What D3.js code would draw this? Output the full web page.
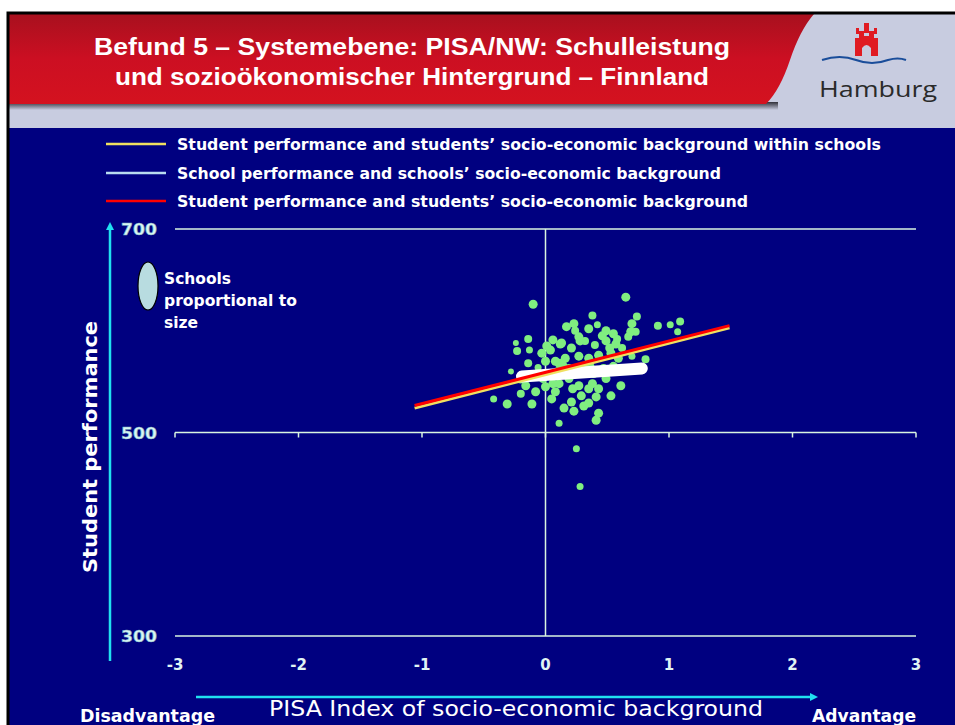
<!DOCTYPE html>
<html><head><meta charset="utf-8">
<script src="https://cdn.jsdelivr.net/npm/d3@7/dist/d3.min.js"></script>
<style>html,body{margin:0;padding:0;background:#fff;}svg{display:block;}</style>
</head><body>
<script>
// ---------- data ----------
const xTicks = [-3, -2, -1, 0, 1, 2, 3];
const yTicks = [300, 500, 700];
const titleLines = ["Befund 5 – Systemebene: PISA/NW: Schulleistung", "und sozioökonomischer Hintergrund – Finnland"];
const legendLabels = [
  "Student performance and students’ socio-economic background within schools",
  "School performance and schools’ socio-economic background",
  "Student performance and students’ socio-economic background"
];
const legendColors = ["#f0e060", "#b8dcf0", "#ff0000"];
// regression lines: [x, y] endpoints
const lineWithin = [[-1.06, 524], [1.49, 603]];
const lineSchools = [[-0.19, 555], [0.78, 563]];
const lineStudents = [[-1.06, 526.5], [1.49, 605]];
// schools: socio-economic index, mean performance, relative size
const schoolX = [-0.10,0.65,0.38,0.17,0.24,0.42,0.74,0.70,0.69,0.73,0.67,0.91,1.01,1.09,1.07,-0.24,-0.23,-0.13,-0.03,0.12,0.04,0.27,0.32,0.21,0.40,0.49,0.49,0.57,0.62,0.53,0.43,0.35,0.27,0.16,0.08,0.00,0.70,0.81,-0.28,-0.06,0.49,0.61,-0.16,0.00,-0.08,0.08,0.27,0.35,0.19,0.29,0.41,-0.42,-0.31,-0.11,0.05,0.21,0.31,0.23,0.43,0.41,0.11,0.25,0.28,0.46,0.52,0.28,0.36,0.58,0.14,0.10,-0.20,-0.05,0.60,0.30,0.00,0.22,0.38,0.06,-0.02,0.13,
  0.06,0.01,0.11,0.19,0.31,0.39,0.47,0.55,0.63,-0.14,-0.20,-0.02,0.11,0.43,0.53,0.35,0.15,0.59,0.23,0.55,-0.14,0.35];
const schoolY = [626,633,615,604,600,606,614,607,599,599,594,605,606,609,599,588,580,581,578,587,581,594,590,583,586,600,590,587,583,578,576,573,575,573,570,570,575,572,560,564,553,546,546,545,540,540,546,543,553,536,535,533,528,528,533,530,526,521,519,512,509,484,447,595,583,590,565,592,566,560,552,556,562,562,557,543,548,548,553,588,
  591,585,568,563,561,558,563,565,561,568,538,555,548,543,536,529,524,573,607,597,592,602];
const schoolR = [4.5,4.5,4,4.5,4,3.5,4,4.5,4.5,4,4,4,3.5,4,3.5,3,4,3.5,4.5,4.5,4.5,4.5,4,4.5,4,4.5,4.5,4.5,4,4.5,4.5,4.5,4.5,4.5,4.5,4.5,3.5,4,3,3.5,4.5,4.5,4.5,4.5,4.5,4.5,4.5,4.5,4.5,4.5,4.5,3.5,4.5,4.5,4.5,4.5,4.5,4.5,4.5,4.5,3.5,3.5,3.5,4.5,4.5,4.5,4.5,4,4.5,4.5,4,4.5,4.5,4.5,4.5,4.5,4.5,4.5,4.5,4.5,
  4.5,4.5,4.5,4.5,4.5,4.5,4.5,4.5,4.5,4,4,4.5,4.5,4.5,4.5,4.5,4.5,4.5,4.5,4.5,4,4.5];

// ---------- svg ----------
const W = 955, H = 725;
const svg = d3.select("body").append("svg").attr("width", W).attr("height", H);
const defs = svg.append("defs");
const rg = defs.append("linearGradient").attr("id", "redg").attr("x1", 0).attr("y1", 0).attr("x2", 0).attr("y2", 1);
rg.append("stop").attr("offset", "0").attr("stop-color", "#a8101e");
rg.append("stop").attr("offset", "0.5").attr("stop-color", "#cc0f22");
rg.append("stop").attr("offset", "1").attr("stop-color", "#d4121f");
const sg = defs.append("linearGradient").attr("id", "shadg").attr("x1", 0).attr("y1", 0).attr("x2", 0).attr("y2", 1);
sg.append("stop").attr("offset", "0").attr("stop-color", "#303038");
sg.append("stop").attr("offset", "1").attr("stop-color", "#c8cce0");
defs.append("marker").attr("id", "arr").attr("viewBox", "0 0 10 10").attr("refX", 5).attr("refY", 5)
  .attr("markerWidth", 3.2).attr("markerHeight", 3.2).attr("orient", "auto")
  .append("path").attr("d", "M0,0L10,5L0,10Z").attr("fill", "#20e0f0");

// background
svg.append("rect").attr("x", 0).attr("y", 0).attr("width", W).attr("height", H).attr("fill", "#fff");
svg.append("rect").attr("x", 7).attr("y", 12).attr("width", W - 7).attr("height", H - 12).attr("fill", "#c8cce0");
svg.append("rect").attr("x", 7).attr("y", 128).attr("width", W - 7).attr("height", H - 128).attr("fill", "#000080");
// shadow under red band
svg.append("path").attr("d", "M7,102 L778,102 L778,110 L7,110 Z").attr("fill", "url(#shadg)");
svg.append("path").attr("d", "M7,14 L814,14 Q800,30 790,60 Q780,90 766,104 L7,104 Z").attr("fill", "url(#redg)");
// border
svg.append("path").attr("d", "M8," + H + " L8,13 L955,13").attr("fill", "none").attr("stroke", "#000").attr("stroke-width", 3);

// title
svg.selectAll("text.title").data(titleLines).join("text").attr("class", "title")
  .attr("x", 412).attr("y", (d, i) => 55 + i * 30).attr("text-anchor", "middle")
  .attr("font-family", "Liberation Sans, Arial, sans-serif").attr("font-weight", "bold").attr("font-size", 23)
  .attr("fill", "#fff").attr("textLength", (d, i) => i === 0 ? 636 : 594).attr("lengthAdjust", "spacingAndGlyphs")
  .text(d => d);

// Hamburg logo
const logo = svg.append("g");
logo.append("path").attr("d", "M855,56 L855,38 L859,38 L859,31 L864,31 L864,36 L869,36 L869,31 L874,31 L874,38 L878,38 L878,56 L871,56 L871,48 Q866.5,42 862,48 L862,56 Z").attr("fill", "#e01b22");
logo.append("rect").attr("x", 864).attr("y", 23).attr("width", 5).attr("height", 10).attr("fill", "#e01b22");
logo.append("rect").attr("x", 856).attr("y", 28).attr("width", 3, 0).attr("height", 6).attr("fill", "#e01b22");
logo.append("rect").attr("x", 874).attr("y", 28).attr("width", 3).attr("height", 6).attr("fill", "#e01b22");
logo.append("path").attr("d", "M822,60 Q840,54 856,60 Q872,66 888,60 Q898,57 906,60").attr("fill", "none").attr("stroke", "#1a4d9a").attr("stroke-width", 2);
logo.append("text").attr("x", 878).attr("y", 97).attr("text-anchor", "middle")
  .attr("font-family", "Open Sans, DejaVu Sans, sans-serif").attr("font-size", 22).attr("fill", "#2a2a2a")
  .attr("textLength", 118).attr("lengthAdjust", "spacingAndGlyphs").text("Hamburg");

// ---------- chart ----------
const x = d3.scaleLinear().domain([-3, 3]).range([175, 916]);
const y = d3.scaleLinear().domain([300, 700]).range([636, 229]);
const font = "DejaVu Sans, Verdana, sans-serif";
const grid = "#d8f4e0";

// horizontal gridlines
svg.append("g").selectAll("line").data(yTicks).join("line")
  .attr("x1", x(-3)).attr("x2", x(3)).attr("y1", d => y(d)).attr("y2", d => y(d))
  .attr("stroke", grid).attr("stroke-width", 1.5);
// vertical line at 0
svg.append("line").attr("x1", x(0)).attr("x2", x(0)).attr("y1", y(700)).attr("y2", y(300))
  .attr("stroke", grid).attr("stroke-width", 1.5);
// tick marks on 500 line
svg.append("g").selectAll("line").data(xTicks).join("line")
  .attr("x1", d => x(d)).attr("x2", d => x(d)).attr("y1", y(500)).attr("y2", y(500) + 5)
  .attr("stroke", grid).attr("stroke-width", 1.5);

// y tick labels
svg.append("g").selectAll("text").data(yTicks).join("text")
  .attr("x", 121).attr("y", d => y(d) + 6).attr("font-family", font).attr("font-weight", "bold")
  .attr("font-size", 15).attr("fill", "#d8f6f4").attr("stroke", "#7fb0c0").attr("stroke-width", 0.5)
  .attr("textLength", 36).attr("lengthAdjust", "spacingAndGlyphs").text(d => d);
// x tick labels
svg.append("g").selectAll("text").data(xTicks).join("text")
  .attr("x", d => x(d)).attr("y", 670).attr("text-anchor", "middle").attr("font-family", font)
  .attr("font-weight", "bold").attr("font-size", 15).attr("fill", "#e0f4f4").text(d => d);

// axes arrows
svg.append("line").attr("x1", 110).attr("x2", 110).attr("y1", 661).attr("y2", 226)
  .attr("stroke", "#20e0f0").attr("stroke-width", 2.5).attr("marker-end", "url(#arr)");
svg.append("line").attr("x1", 196).attr("x2", 814).attr("y1", 697).attr("y2", 697)
  .attr("stroke", "#20e0f0").attr("stroke-width", 2.5).attr("marker-end", "url(#arr)");

// schools
svg.append("g").selectAll("circle").data(schoolX.map((v, i) => [v, schoolY[i], schoolR[i]])).join("circle")
  .attr("cx", d => x(d[0])).attr("cy", d => y(d[1])).attr("r", d => d[2]).attr("fill", "#80ee80");

// regression lines
const lg = d3.line().x(d => x(d[0])).y(d => y(d[1]));
svg.append("path").attr("d", lg(lineSchools)).attr("stroke", "#ffffff").attr("stroke-width", 12)
  .attr("stroke-linecap", "round").attr("fill", "none");
svg.append("path").attr("d", lg(lineWithin)).attr("stroke", legendColors[0]).attr("stroke-width", 3).attr("fill", "none");
svg.append("path").attr("d", lg(lineStudents)).attr("stroke", legendColors[2]).attr("stroke-width", 3).attr("fill", "none");

// legend
const legY = [144, 173, 201];
const legW = [704, 544, 571];
const leg = svg.append("g").selectAll("g").data(legendLabels).join("g");
leg.append("line").attr("x1", 106).attr("x2", 166).attr("y1", (d, i) => legY[i]).attr("y2", (d, i) => legY[i])
  .attr("stroke", (d, i) => legendColors[i]).attr("stroke-width", 2.5);
leg.append("text").attr("x", 177).attr("y", (d, i) => legY[i] + 6).attr("font-family", font)
  .attr("font-weight", "bold").attr("font-size", 16).attr("fill", "#fff")
  .attr("textLength", (d, i) => legW[i]).attr("lengthAdjust", "spacingAndGlyphs").text(d => d);

// schools note
svg.append("ellipse").attr("cx", 148).attr("cy", 286).attr("rx", 10).attr("ry", 24)
  .attr("fill", "#b8dce0").attr("stroke", "#000").attr("stroke-width", 1.2);
const note = ["Schools", "proportional to", "size"];
const noteW = [67, 133, 34];
svg.append("g").selectAll("text").data(note).join("text")
  .attr("x", 164).attr("y", (d, i) => 284 + i * 22).attr("font-family", font).attr("font-weight", "bold")
  .attr("font-size", 16).attr("fill", "#fff").attr("textLength", (d, i) => noteW[i])
  .attr("lengthAdjust", "spacingAndGlyphs").text(d => d);

// axis titles
svg.append("text").attr("transform", "translate(97,447) rotate(-90)").attr("text-anchor", "middle")
  .attr("font-family", font).attr("font-weight", "bold").attr("font-size", 19).attr("fill", "#fff")
  .attr("textLength", 252).attr("lengthAdjust", "spacingAndGlyphs").text("Student performance");
svg.append("text").attr("x", 516).attr("y", 716).attr("text-anchor", "middle")
  .attr("font-family", font).attr("font-size", 21).attr("fill", "#fff")
  .attr("textLength", 494).attr("lengthAdjust", "spacingAndGlyphs").text("PISA Index of socio-economic background");
svg.append("text").attr("x", 80).attr("y", 722).attr("font-family", font).attr("font-weight", "bold")
  .attr("font-size", 17).attr("fill", "#fff").attr("textLength", 135).attr("lengthAdjust", "spacingAndGlyphs").text("Disadvantage");
svg.append("text").attr("x", 812).attr("y", 722).attr("font-family", font).attr("font-weight", "bold")
  .attr("font-size", 17).attr("fill", "#fff").attr("textLength", 104).attr("lengthAdjust", "spacingAndGlyphs").text("Advantage");
</script>
</body></html>
